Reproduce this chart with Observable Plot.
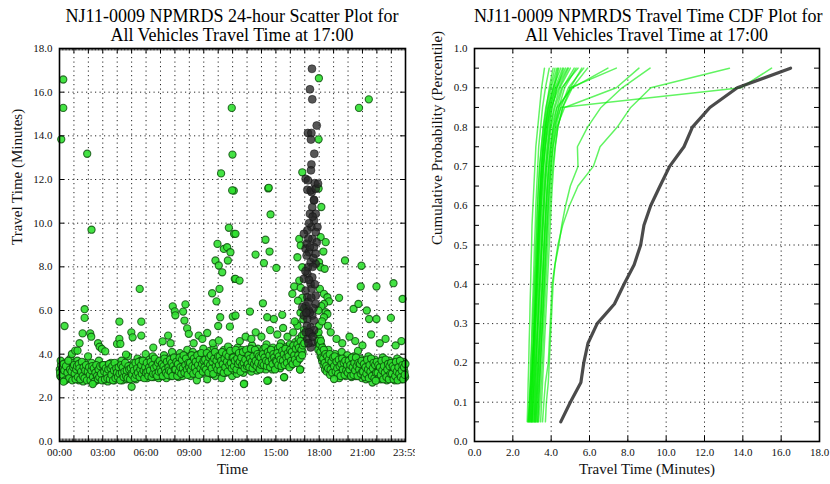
<!DOCTYPE html>
<html><head><meta charset="utf-8">
<script src="https://cdn.jsdelivr.net/npm/d3@7"></script>
<script src="https://cdn.jsdelivr.net/npm/@observablehq/plot@0.6"></script>
<style>
body{margin:0;background:#fff;}
#wrap{display:flex;width:830px;height:484px;background:#fff;}
.panel{width:415px;height:484px;}
.title{height:46px;box-sizing:border-box;padding-top:7px;font-family:"Liberation Serif",serif;font-size:18px;line-height:19px;text-align:center;color:#000;white-space:nowrap;}
svg{display:block;}
</style></head><body>
<div id="wrap">
<div class="panel" id="left"><div class="title" style="padding-left:59px;padding-right:10px">NJ11-0009 NPMRDS 24-hour Scatter Plot for<br>All Vehicles Travel Time at 17:00</div></div>
<div class="panel" id="right"><div class="title" style="padding-left:59px;padding-right:11px">NJ11-0009 NPMRDS Travel Time CDF Plot for<br>All Vehicles Travel Time at 17:00</div></div>
</div>
<script>
// ---------- Scatter data: [hour of day, travel time (min)] ----------
const greenBand = [
[0.02,3.3],[0.05,3.0],[0.1,3.5],[0.14,3.2],[0.2,2.9],[0.25,3.4],[0.3,3.1],[0.36,3.6],[0.42,3.2],[0.48,2.85],[0.52,3.3],[0.58,3.0],[0.63,3.5],[0.7,3.15],[0.76,3.8],[0.8,2.95],[0.86,3.35],[0.92,3.1],[0.97,3.6],
[1.03,3.2],[1.08,2.9],[1.13,3.4],[1.18,3.0],[1.24,3.7],[1.3,3.25],[1.35,2.8],[1.41,3.1],[1.47,3.5],[1.52,3.0],[1.58,3.3],[1.64,2.75],[1.7,3.15],[1.75,3.6],[1.81,2.95],[1.87,3.3],[1.93,3.05],[1.98,3.9],
[2.02,3.1],[2.07,2.85],[2.12,3.35],[2.18,3.0],[2.23,3.6],[2.29,2.7],[2.35,3.2],[2.4,2.95],[2.46,3.45],[2.52,3.1],[2.57,2.8],[2.62,3.3],[2.68,3.0],[2.73,3.7],[2.79,3.2],[2.85,2.9],[2.9,3.4],[2.96,3.05],
[3.02,3.25],[3.07,2.8],[3.12,3.05],[3.18,3.5],[3.24,2.95],[3.29,3.2],[3.35,2.75],[3.4,3.4],[3.46,3.0],[3.51,3.15],[3.57,3.6],[3.63,2.9],[3.68,3.3],[3.74,3.05],[3.8,2.8],[3.85,3.45],[3.9,3.1],[3.96,2.95],
[4.02,3.2],[4.08,3.55],[4.13,2.9],[4.19,3.3],[4.24,3.05],[4.3,3.7],[4.36,2.8],[4.41,3.25],[4.47,3.0],[4.52,3.45],[4.58,3.1],[4.64,2.85],[4.69,3.35],[4.75,3.9],[4.8,3.05],[4.86,3.2],[4.92,2.95],[4.97,3.5],
[5.02,3.3],[5.07,2.9],[5.13,3.6],[5.18,3.1],[5.24,3.4],[5.3,2.85],[5.35,3.25],[5.41,3.8],[5.46,3.0],[5.52,3.45],[5.58,3.15],[5.63,3.7],[5.69,2.95],[5.74,3.35],[5.8,3.05],[5.86,3.55],[5.91,3.2],[5.97,4.0],
[6.02,3.3],[6.08,2.9],[6.13,3.5],[6.19,3.15],[6.24,3.75],[6.3,3.0],[6.35,3.4],[6.41,3.2],[6.47,3.9],[6.52,2.95],[6.58,3.55],[6.63,3.25],[6.69,3.05],[6.75,3.65],[6.8,3.35],[6.86,2.9],[6.91,3.45],[6.97,3.15],
[7.02,3.4],[7.08,3.0],[7.13,3.7],[7.19,3.25],[7.24,3.95],[7.3,3.1],[7.35,3.5],[7.41,2.9],[7.47,3.35],[7.52,3.8],[7.58,3.15],[7.63,3.55],[7.69,3.0],[7.75,3.45],[7.8,4.1],[7.86,3.3],[7.91,3.6],[7.97,3.05],
[8.02,3.5],[8.08,3.1],[8.13,3.8],[8.19,3.3],[8.24,2.95],[8.3,3.6],[8.35,4.05],[8.41,3.2],[8.47,3.45],[8.52,3.0],[8.58,3.7],[8.63,3.35],[8.69,3.9],[8.75,3.15],[8.8,3.55],[8.86,4.2],[8.91,3.25],[8.97,3.65],
[9.02,3.4],[9.08,3.0],[9.13,3.75],[9.19,3.3],[9.24,4.1],[9.3,3.55],[9.35,3.15],[9.41,3.85],[9.47,3.45],[9.52,2.8],[9.58,3.65],[9.63,3.25],[9.69,4.0],[9.75,3.5],[9.8,3.1],[9.86,3.8],[9.91,3.35],[9.97,4.25],
[10.02,3.6],[10.08,3.2],[10.13,3.9],[10.19,3.45],[10.24,2.85],[10.3,3.75],[10.35,3.3],[10.41,4.15],[10.47,3.55],[10.52,3.1],[10.58,3.85],[10.63,3.4],[10.69,4.3],[10.75,3.65],[10.8,3.0],[10.86,3.95],[10.91,3.5],[10.97,3.2],
[11.02,3.7],[11.08,3.3],[11.13,4.0],[11.19,3.5],[11.24,2.9],[11.3,3.85],[11.35,3.4],[11.41,4.2],[11.47,3.6],[11.52,3.15],[11.58,3.95],[11.63,3.45],[11.69,4.35],[11.75,3.75],[11.8,3.25],[11.86,4.05],[11.91,3.55],[11.97,3.0],
[12.02,3.65],[12.08,3.25],[12.13,4.1],[12.19,3.5],[12.24,3.85],[12.3,3.1],[12.35,4.3],[12.41,3.6],[12.47,3.35],[12.52,3.95],[12.58,3.45],[12.63,4.2],[12.69,3.7],[12.75,3.15],[12.8,2.65],[12.86,3.9],[12.91,3.5],[12.97,4.0],
[13.02,3.75],[13.08,3.3],[13.13,4.15],[13.19,3.6],[13.24,3.95],[13.3,3.2],[13.35,4.4],[13.41,3.7],[13.47,3.45],[13.52,4.05],[13.58,3.55],[13.63,3.85],[13.69,3.25],[13.75,4.25],[13.8,3.65],[13.86,3.4],[13.91,4.0],[13.97,3.75],
[14.02,3.8],[14.08,3.35],[14.13,4.2],[14.19,3.65],[14.24,4.0],[14.3,3.3],[14.35,4.45],[14.41,3.75],[14.47,2.8],[14.52,3.5],[14.58,4.1],[14.63,3.6],[14.69,3.9],[14.75,3.3],[14.8,4.3],[14.86,3.7],[14.91,3.45],[14.97,4.05],
[15.02,3.85],[15.08,3.4],[15.13,4.25],[15.19,3.7],[15.24,4.05],[15.3,3.35],[15.35,4.5],[15.41,3.8],[15.47,3.55],[15.52,4.15],[15.58,2.95],[15.63,3.95],[15.69,3.5],[15.75,4.35],[15.8,3.75],[15.86,4.1],[15.91,3.6],[15.97,4.45],
[16.02,3.9],[16.08,3.5],[16.13,4.3],[16.19,3.75],[16.24,4.1],[16.3,3.6],[16.35,4.55],[16.41,3.85],[16.47,4.2],[16.52,3.7],[16.58,4.7],[16.63,4.0],[16.69,3.3],[16.74,4.4],[16.8,4.85],[16.85,4.1],[16.9,4.6],[16.95,5.1],
[17.88,4.9],[17.92,4.5],[17.96,5.0],[17.98,4.3],
[18.02,4.2],[18.06,4.7],[18.1,3.9],[18.15,4.4],[18.2,3.7],[18.25,4.1],[18.3,3.5],[18.35,3.9],[18.4,3.3],[18.46,3.75],[18.52,3.2],[18.58,3.6],[18.64,4.2],[18.7,3.4],[18.76,3.05],[18.82,3.8],[18.88,3.5],[18.94,3.25],
[19.0,3.7],[19.06,3.3],[19.11,4.0],[19.17,3.5],[19.22,3.1],[19.28,3.85],[19.33,3.4],[19.39,2.9],[19.45,3.65],[19.5,3.25],[19.56,4.1],[19.62,3.55],[19.67,3.15],[19.73,3.8],[19.78,3.35],[19.84,3.0],[19.9,3.6],[19.95,3.95],
[20.02,3.45],[20.08,3.1],[20.13,3.75],[20.19,3.3],[20.24,2.95],[20.3,3.6],[20.35,3.2],[20.41,3.9],[20.47,3.4],[20.52,3.0],[20.58,3.7],[20.63,3.25],[20.69,4.15],[20.75,3.5],[20.8,3.05],[20.86,3.8],[20.91,3.35],[20.97,2.9],
[21.02,3.4],[21.08,3.05],[21.13,3.7],[21.19,3.25],[21.24,2.85],[21.3,3.55],[21.35,3.15],[21.41,3.9],[21.47,3.35],[21.52,2.95],[21.58,3.6],[21.63,3.2],[21.69,2.7],[21.75,3.45],[21.8,3.1],[21.86,3.75],[21.91,3.3],[21.97,3.0],
[22.02,3.35],[22.08,3.0],[22.13,3.65],[22.19,3.2],[22.24,2.85],[22.3,3.5],[22.35,3.1],[22.41,3.85],[22.47,3.3],[22.52,2.95],[22.58,3.55],[22.63,3.15],[22.69,2.8],[22.75,3.4],[22.8,3.05],[22.86,3.7],[22.91,3.25],[22.97,2.9],
[23.02,3.3],[23.08,2.95],[23.13,3.6],[23.19,3.15],[23.24,2.8],[23.3,3.45],[23.35,3.05],[23.41,3.8],[23.47,3.25],[23.52,2.9],[23.58,3.5],[23.63,3.1],[23.69,2.85],[23.75,3.4],[23.8,3.0],[23.86,3.65],[23.91,3.2],[23.96,2.95]
];
const greenBand2 = [
[0.04,3.15],[0.08,3.7],[0.12,2.95],[0.18,3.35],[0.23,3.05],[0.28,3.55],[0.33,3.25],[0.39,2.8],[0.45,3.45],[0.55,3.15],[0.61,3.7],[0.67,2.9],[0.73,3.3],[0.83,3.2],[0.89,2.8],[0.95,3.4],
[1.01,3.5],[1.05,3.1],[1.11,2.85],[1.16,3.3],[1.21,3.45],[1.27,2.95],[1.33,3.55],[1.38,3.35],[1.44,2.85],[1.5,3.2],[1.55,3.65],[1.61,3.0],[1.67,3.4],[1.73,2.9],[1.78,3.25],[1.84,3.5],[1.9,2.8],[1.96,3.2],
[2.05,3.4],[2.1,3.05],[2.15,2.8],[2.21,3.25],[2.27,3.45],[2.32,2.95],[2.38,3.35],[2.43,2.75],[2.49,3.15],[2.55,3.5],[2.6,3.0],[2.66,2.85],[2.71,3.3],[2.76,2.95],[2.82,3.45],[2.88,3.1],[2.93,2.8],[2.98,3.5],
[3.04,3.5],[3.1,3.2],[3.15,2.85],[3.21,3.35],[3.27,3.1],[3.32,2.9],[3.38,3.3],[3.43,3.55],[3.49,2.85],[3.54,3.35],[3.6,3.05],[3.66,3.45],[3.71,2.8],[3.77,3.25],[3.82,3.6],[3.88,2.9],[3.93,3.35],[3.98,3.15],
[4.05,2.95],[4.1,3.4],[4.16,3.1],[4.21,2.8],[4.27,3.5],[4.33,3.15],[4.38,3.4],[4.44,2.95],[4.5,3.2],[4.55,3.6],[4.61,3.0],[4.66,3.25],[4.72,2.9],[4.78,3.45],[4.83,3.3],[4.89,2.85],[4.94,3.35],[4.99,3.1],
[5.04,3.05],[5.1,3.45],[5.15,3.25],[5.21,2.9],[5.27,3.6],[5.32,3.05],[5.38,3.35],[5.44,3.15],[5.49,3.65],[5.55,2.95],[5.6,3.3],[5.66,3.5],[5.71,3.1],[5.77,3.7],[5.83,3.25],[5.88,2.9],[5.94,3.4],[5.99,3.15],
[6.05,3.6],[6.1,3.2],[6.16,3.0],[6.21,3.4],[6.27,3.25],[6.32,3.65],[6.38,2.95],[6.44,3.5],[6.49,3.1],[6.55,3.35],[6.6,3.8],[6.66,3.1],[6.72,3.45],[6.77,3.0],[6.83,3.6],[6.88,3.2],[6.94,3.7],[6.99,3.35],
[7.05,3.2],[7.1,3.55],[7.16,3.0],[7.21,3.45],[7.27,3.8],[7.32,3.3],[7.38,3.15],[7.44,3.65],[7.49,3.05],[7.55,3.4],[7.6,3.25],[7.66,3.75],[7.72,3.2],[7.77,3.6],[7.83,3.0],[7.88,3.45],[7.94,3.85],[7.99,3.3],
[8.05,3.3],[8.1,3.65],[8.16,3.0],[8.21,3.55],[8.27,3.2],[8.32,3.85],[8.38,3.4],[8.44,3.1],[8.49,3.75],[8.55,3.35],[8.6,3.95],[8.66,3.15],[8.72,3.5],[8.77,3.8],[8.83,3.3],[8.88,3.05],[8.94,3.6],[8.99,3.4],
[9.05,3.6],[9.1,3.25],[9.16,3.95],[9.21,3.45],[9.27,3.1],[9.32,3.8],[9.38,3.4],[9.44,3.65],[9.49,3.2],[9.55,3.95],[9.6,3.5],[9.66,3.05],[9.72,3.75],[9.77,3.35],[9.83,4.05],[9.88,3.55],[9.94,3.2],[9.99,3.7],
[10.05,3.4],[10.1,3.75],[10.16,3.3],[10.21,4.05],[10.27,3.6],[10.32,3.15],[10.38,3.85],[10.44,3.5],[10.49,3.95],[10.55,3.35],[10.6,3.65],[10.66,3.1],[10.72,3.8],[10.77,4.1],[10.83,3.45],[10.88,3.7],[10.94,3.3],[10.99,3.9],
[11.05,3.5],[11.1,3.9],[11.16,3.25],[11.21,3.7],[11.27,4.1],[11.32,3.55],[11.38,3.15],[11.44,3.8],[11.49,3.4],[11.55,4.0],[11.6,3.65],[11.66,3.2],[11.72,3.9],[11.77,3.5],[11.83,4.15],[11.88,3.6],[11.94,3.35],[11.99,3.85],
[12.05,3.85],[12.1,3.45],[12.16,3.7],[12.21,4.2],[12.27,3.3],[12.32,3.8],[12.38,3.55],[12.44,4.05],[12.49,3.65],[12.55,3.2],[12.6,3.85],[12.66,3.5],[12.72,4.1],[12.77,3.6],[12.83,3.35],[12.88,3.75],[12.94,4.2],[12.99,3.45],
[13.05,3.55],[13.1,3.95],[13.16,3.4],[13.21,3.8],[13.27,4.25],[13.32,3.65],[13.38,3.35],[13.44,3.9],[13.49,3.55],[13.55,4.2],[13.6,3.7],[13.66,3.45],[13.72,4.0],[13.77,3.6],[13.83,3.9],[13.88,3.3],[13.94,3.85],[13.99,3.5],
[14.05,3.6],[14.1,4.0],[14.16,3.5],[14.21,3.85],[14.27,4.3],[14.32,3.7],[14.38,3.45],[14.44,4.1],[14.49,3.65],[14.55,3.95],[14.6,3.4],[14.66,4.2],[14.72,3.75],[14.77,3.55],[14.83,4.0],[14.88,3.85],[14.94,3.3],[14.99,3.7],
[15.05,3.65],[15.1,4.05],[15.16,3.5],[15.21,3.9],[15.27,4.35],[15.32,3.75],[15.38,3.45],[15.44,4.15],[15.49,3.7],[15.55,4.0],[15.6,3.5],[15.66,4.25],[15.72,3.85],[15.77,3.6],[15.83,4.05],[15.88,3.9],[15.94,3.4],[15.99,4.2],
[16.05,3.7],[16.1,4.1],[16.16,3.55],[16.21,4.4],[16.27,3.95],[16.32,3.75],[16.38,4.25],[16.44,3.6],[16.49,4.45],[16.55,3.95],[16.6,4.3],[16.66,3.8],[16.71,4.6],[16.77,4.2],[16.82,3.95],[16.87,4.4],[16.92,4.9],[16.97,4.5],
[17.9,4.6],[17.94,4.2],
[18.04,4.45],[18.08,4.1],[18.12,4.6],[18.18,3.85],[18.22,4.3],[18.28,3.8],[18.32,4.2],[18.38,3.6],[18.43,4.0],[18.49,3.45],[18.55,3.9],[18.61,3.35],[18.67,3.75],[18.73,4.0],[18.79,3.3],[18.85,3.65],[18.91,3.15],[18.97,3.85],
[19.03,3.45],[19.08,3.9],[19.14,3.2],[19.2,3.65],[19.25,3.35],[19.31,3.1],[19.36,3.75],[19.42,3.45],[19.48,3.0],[19.53,3.55],[19.59,3.8],[19.64,3.3],[19.7,3.6],[19.76,3.05],[19.81,3.7],[19.87,3.25],[19.93,3.5],[19.98,3.15],
[20.05,3.7],[20.1,3.3],[20.16,3.5],[20.21,3.0],[20.27,3.85],[20.32,3.4],[20.38,3.05],[20.44,3.6],[20.49,3.25],[20.55,3.85],[20.6,3.45],[20.66,3.0],[20.72,3.6],[20.77,3.3],[20.83,3.55],[20.88,3.1],[20.94,3.7],[20.99,3.2],
[21.05,3.2],[21.1,3.55],[21.16,2.95],[21.21,3.4],[21.27,3.1],[21.32,3.75],[21.38,3.3],[21.44,2.9],[21.49,3.5],[21.55,3.2],[21.6,3.8],[21.66,3.0],[21.72,3.35],[21.77,3.6],[21.83,2.9],[21.88,3.5],[21.94,3.15],[21.99,3.65],
[22.05,3.15],[22.1,3.5],[22.16,2.9],[22.21,3.4],[22.27,3.05],[22.32,3.7],[22.38,3.25],[22.44,2.85],[22.49,3.45],[22.55,3.15],[22.6,3.75],[22.66,2.95],[22.72,3.3],[22.77,3.55],[22.83,2.85],[22.88,3.45],[22.94,3.1],[22.99,3.6],
[23.05,3.1],[23.1,3.45],[23.16,2.85],[23.21,3.35],[23.27,3.0],[23.32,3.65],[23.38,3.2],[23.44,2.8],[23.49,3.4],[23.55,3.1],[23.6,3.7],[23.66,2.95],[23.72,3.25],[23.77,3.5],[23.83,2.85],[23.88,3.4],[23.93,3.05],[23.98,3.55]
];
const greenMid = [
[0.35,5.29],[0.86,4.01],[1.09,4.16],[1.25,4.16],[1.39,4.5],[1.6,4.95],[1.74,6.06],[1.74,5.66],[2.13,4.95],[2.2,4.8],[2.67,4.5],[2.78,4.34],[2.94,4.24],[3.17,4.13],[3.99,4.47],[4.15,4.7],[4.22,4.47],[4.15,5.49],[4.61,3.98],[4.98,5.0],[5.07,4.77],[5.67,4.85],[5.67,5.49],[5.56,6.99],[7.15,4.59],[7.53,4.85],[7.85,6.19],[7.99,5.96],[8.03,5.78],[8.57,5.95],[8.66,5.54],[8.73,6.28],[8.85,5.18],[8.96,4.93],[9.65,4.85],[10.24,4.97],[10.58,6.79],[10.63,4.5],[10.88,6.42],[11.0,5.29],[11.04,4.62],[11.09,6.99],[11.14,5.69],[11.81,5.26],[12.01,5.72],[12.15,7.45],[12.2,7.45],[12.48,7.37],[12.2,5.77],[13.2,5.95],[14.1,6.33],[14.4,5.69],[14.86,5.61],[15.44,5.8],[19.38,6.58],[19.79,8.29],[20.38,6.07],[20.72,6.3],[20.88,7.1],[20.93,8.05],[21.3,6.0],[21.46,5.61],[21.97,7.1],[21.97,5.61],[22.97,5.66],[23.15,7.25],[23.78,6.53],
[12.5,4.6],[12.9,4.8],[13.3,4.7],[13.6,5.0],[14.0,4.8],[14.6,5.1],[15.1,4.9],[15.5,5.2],[15.8,4.8],[16.2,5.0],[16.45,5.4],[19.2,4.7],[19.6,4.5],[20.1,4.8],[20.5,4.6],[21.0,4.4],[21.6,4.9],[22.2,4.5],[22.6,4.7],[23.3,4.4],[23.7,4.6],[6.5,4.3],[7.7,4.5],[9.3,4.5],[9.9,4.7],
[5.0,2.51],[0.28,2.74],[2.3,2.63],[12.78,2.63],[15.56,2.94],[14.4,2.78],[16.67,3.29],[21.92,2.78],[19.03,2.86]
];
const greenHigh = [
[0.26,16.58],[0.26,15.28],[0.12,13.84],[1.92,13.18],[2.22,9.7],[11.94,15.28],[11.99,13.14],[11.2,12.28],[12.08,11.49],[11.97,11.5],[14.47,11.59],[14.5,11.62],[14.63,10.4],[16.83,12.33],[17.98,16.64],[17.96,13.84],[17.96,11.59],[20.76,15.28],[21.44,15.67],[11.74,9.79],[12.1,9.51],[10.95,9.05],[11.39,8.82],[11.62,8.9],[11.85,8.67],[11.67,8.29],[10.81,8.29],[11.04,8.06],[11.28,7.75],[18.15,10.74],[12.2,9.51],[14.28,9.24],[14.56,8.7],[13.59,8.56],[14.17,8.17],[15.03,7.95],
[16.62,9.28],[16.72,8.98],[16.49,8.44],[16.83,7.98],[16.62,7.37],[16.27,7.1],[16.72,7.04],[16.14,6.76],[16.83,6.58],[16.53,6.45],[18.1,9.36],[18.45,9.13],[18.29,8.7],[17.99,8.21],[18.1,7.98],[18.38,7.91],[18.05,6.99],[18.33,6.76],[18.57,6.61],[18.68,6.42],[18.33,6.3],[18.45,5.92],[18.57,5.84],[18.33,5.69],[17.99,5.31],[16.9,5.6],[16.7,5.9],[16.5,5.3],[16.3,5.5],[18.2,5.5],[18.6,5.3],[18.8,5.0],[18.15,6.2],[16.95,6.1],[17.95,6.0]
];
const blackPoints = [
[17.5,17.07],[17.36,16.13],[17.52,15.67],[17.83,14.47],[17.22,14.13],[17.46,14.13],[17.43,13.83],[17.66,13.18],[17.46,12.69],[17.43,12.42],[17.06,12.03],[17.69,11.83],[17.18,11.53],[17.48,11.42],[17.64,11.07],
[17.22,11.96],[17.41,11.5],[17.76,11.58],[17.92,11.81],[17.64,11.04],[17.52,10.73],[17.36,10.43],[17.76,10.43],[17.64,10.12],[17.46,9.82],[17.88,9.82],[17.18,9.67],[17.76,9.59],[16.94,9.51],[17.52,9.28],[17.13,9.06],[17.83,9.13],[17.06,8.83],[17.29,8.67],[17.13,8.52],[17.64,8.9],[17.41,8.21],[17.22,7.98],[17.76,8.14],[17.18,7.68],[16.94,7.45],[17.52,7.52],[17.41,7.22],[17.06,6.91],[17.18,6.61],[17.76,6.68],[17.06,6.22],[17.29,6.0],[16.94,5.77],[17.52,5.77],[17.18,5.61],[17.64,5.54],[17.41,5.23],[17.06,5.0],[17.41,4.93],[17.18,4.7],[17.52,4.54],[17.41,4.31],[17.76,6.3],[16.83,6.15],
[17.3,10.0],[17.55,10.3],[17.25,9.3],[17.35,8.9],[17.6,8.4],[17.3,7.4],[17.48,7.0],[17.25,6.4],[17.6,6.1],[17.35,5.9],[17.15,5.3],[17.65,5.1],[17.3,5.0],[17.55,4.8],[17.25,4.5],[17.1,5.9],[17.45,6.6],[17.7,7.2],[17.05,7.8],[17.55,8.0],[17.75,8.6]
];

// ---------- Scatter axes ----------
const timeTickHours = [0, 3, 6, 9, 12, 15, 18, 21, 23.9833];
const timeTickLabels = ["00:00","03:00","06:00","09:00","12:00","15:00","18:00","21:00","23:59"];
const travelTicks = [0, 2, 4, 6, 8, 10, 12, 14, 16, 18];

// ---------- CDF data ----------
const probs = [0.05,0.10,0.15,0.20,0.25,0.30,0.35,0.40,0.45,0.50,0.55,0.60,0.65,0.70,0.75,0.80,0.85,0.90,0.95];
const cdfBlack = [4.5,5.0,5.55,5.7,5.92,6.4,7.3,7.8,8.33,8.67,8.84,9.19,9.68,10.18,10.93,11.37,12.28,13.71,16.49];
const cdfGreen = [
[2.75,2.78,2.8,2.83,2.85,2.88,2.9,2.93,2.95,2.98,3.0,3.05,3.1,3.15,3.2,3.3,3.4,3.5,3.65],
[2.8,2.85,2.9,2.93,2.97,3.0,3.03,3.07,3.1,3.13,3.17,3.2,3.25,3.3,3.35,3.45,3.55,3.7,3.9],
[2.85,2.9,2.95,3.0,3.05,3.08,3.12,3.15,3.2,3.23,3.27,3.3,3.35,3.4,3.5,3.6,3.75,3.9,4.1],
[2.9,2.95,3.0,3.04,3.08,3.12,3.16,3.2,3.24,3.28,3.32,3.37,3.42,3.48,3.55,3.65,3.8,4.0,4.3],
[2.95,3.0,3.05,3.1,3.13,3.17,3.2,3.25,3.28,3.32,3.36,3.4,3.46,3.52,3.6,3.7,3.85,4.1,4.5],
[3.0,3.05,3.1,3.13,3.17,3.2,3.24,3.28,3.32,3.36,3.4,3.45,3.5,3.57,3.65,3.75,3.95,4.2,4.6],
[2.8,2.88,2.95,3.02,3.08,3.13,3.18,3.22,3.27,3.3,3.35,3.4,3.45,3.5,3.6,3.72,3.9,4.15,4.4],
[3.05,3.1,3.15,3.2,3.23,3.27,3.3,3.34,3.38,3.42,3.46,3.5,3.56,3.62,3.7,3.8,3.95,4.25,4.75],
[3.1,3.15,3.2,3.25,3.28,3.32,3.36,3.4,3.44,3.48,3.52,3.57,3.62,3.7,3.78,3.9,4.05,4.3,4.85],
[3.15,3.2,3.25,3.3,3.35,3.38,3.42,3.46,3.5,3.54,3.58,3.63,3.68,3.75,3.85,3.95,4.15,4.45,5.0],
[3.2,3.26,3.32,3.37,3.42,3.46,3.5,3.54,3.58,3.62,3.67,3.72,3.78,3.85,3.95,4.1,4.3,4.6,5.2],
[2.9,2.95,3.0,3.05,3.1,3.15,3.2,3.25,3.3,3.35,3.4,3.45,3.5,3.58,3.68,3.8,4.0,4.4,4.9],
[3.0,3.04,3.08,3.12,3.16,3.2,3.25,3.3,3.34,3.38,3.43,3.48,3.54,3.6,3.7,3.85,4.05,4.3,4.65],
[3.25,3.3,3.36,3.42,3.47,3.52,3.56,3.6,3.65,3.7,3.75,3.8,3.87,3.95,4.05,4.2,4.4,4.7,5.3],
[3.3,3.35,3.4,3.45,3.5,3.55,3.6,3.65,3.7,3.75,3.8,3.85,3.92,4.0,4.1,4.25,4.5,4.9,5.7],
[3.35,3.42,3.48,3.53,3.58,3.62,3.67,3.72,3.77,3.82,3.87,3.93,4.0,4.08,4.2,4.35,4.6,5.1,5.9],
[2.95,2.98,3.02,3.05,3.09,3.13,3.17,3.21,3.25,3.29,3.33,3.38,3.43,3.5,3.58,3.68,3.85,4.1,4.35],
[3.1,3.14,3.18,3.22,3.27,3.31,3.35,3.4,3.45,3.5,3.55,3.6,3.66,3.73,3.82,3.95,4.2,4.55,5.4],
[3.45,3.5,3.55,3.6,3.65,3.7,3.75,3.8,3.85,3.9,3.95,4.0,4.06,4.13,4.22,4.35,4.6,5.0,5.6],
[2.85,2.88,2.92,2.96,3.0,3.04,3.08,3.12,3.16,3.2,3.24,3.28,3.33,3.4,3.48,3.58,3.72,3.95,4.2],
[3.2,3.25,3.3,3.35,3.4,3.45,3.5,3.55,3.6,3.65,3.7,3.75,3.82,3.9,4.0,4.15,4.5,13.9,15.5],
[3.3,3.35,3.4,3.45,3.5,3.55,3.6,3.65,3.7,3.75,3.8,3.86,3.92,4.0,4.1,4.3,4.7,7.4,8.58],
[3.55,3.62,3.7,3.85,3.9,3.95,4.0,4.05,4.2,4.4,4.55,4.75,5.0,5.4,5.37,5.9,6.6,7.7,9.16],
[3.7,3.75,3.85,3.9,3.95,4.0,4.05,4.1,4.2,4.35,4.6,4.95,5.4,6.2,6.55,7.45,8.15,9.2,13.3],
[3.0,3.06,3.12,3.18,3.24,3.3,3.35,3.4,3.46,3.52,3.58,3.64,3.7,3.78,3.88,4.0,4.3,5.1,6.96],
[3.15,3.2,3.26,3.32,3.37,3.43,3.48,3.53,3.58,3.63,3.68,3.74,3.8,3.88,3.98,4.1,4.4,5.0,7.4]
];
const cdfXTicks = [0, 2, 4, 6, 8, 10, 12, 14, 16, 18];
const cdfYTicks = [0, 0.1, 0.2, 0.3, 0.4, 0.5, 0.6, 0.7, 0.8, 0.9, 1.0];
const cdfYMinor = [0.05, 0.15, 0.25, 0.35, 0.45, 0.55, 0.65, 0.75, 0.85, 0.95];

// ---------- layout ----------
const W = 415, H = 438, MT = 2, MB = 43;
const FH = H - MT - MB;
const serif = "'Liberation Serif', 'Times New Roman', serif";
const gridStyle = {stroke: "#000", strokeOpacity: 0.85, strokeWidth: 1, strokeDasharray: "1.2,3.3"};
const tickStyle = {stroke: "#000", strokeWidth: 1};

// Left: scatter
{
  const ML = 59, MR = 10, FW = W - ML - MR;
  const minor = d3.range(0, 24, 0.1);
  const hours = d3.range(1, 24);
  const pt = d => d[0], pv = d => d[1];
  const svg = Plot.plot({
    width: W, height: H, marginLeft: ML, marginRight: MR, marginTop: MT, marginBottom: MB,
    style: {fontFamily: serif, fontSize: "11px", color: "#111", background: "white", overflow: "visible"},
    x: {domain: [0, 23.9833]},
    y: {domain: [0, 18]},
    marks: [
      Plot.ruleX(hours, {x: d => d, ...gridStyle}),
      Plot.ruleY(travelTicks.slice(1, -1), {y: d => d, ...gridStyle}),
      Plot.dot(greenBand.concat(greenBand2, greenMid, greenHigh), {x: pt, y: pv, r: 3.6, fill: "#30e030", fillOpacity: 0.9, stroke: "#0b4a0b", strokeOpacity: 0.8, strokeWidth: 1.1}),
      Plot.dot(blackPoints, {x: pt, y: pv, r: 4, fill: "#262626", fillOpacity: 0.78, stroke: "#111", strokeOpacity: 0.5, strokeWidth: 1}),
      Plot.tickX(minor, {x: d => d, insetTop: FH - 2.5, ...tickStyle, strokeWidth: 0.8}),
      Plot.tickX(minor, {x: d => d, insetBottom: FH - 2.5, ...tickStyle, strokeWidth: 0.8}),
      Plot.tickX(hours, {x: d => d, insetTop: FH - 5, ...tickStyle}),
      Plot.tickX(hours, {x: d => d, insetBottom: FH - 5, ...tickStyle}),
      Plot.tickY(travelTicks, {y: d => d, insetRight: FW - 5, ...tickStyle}),
      Plot.tickY(travelTicks, {y: d => d, insetLeft: FW - 5, ...tickStyle}),
      Plot.axisX({ticks: timeTickHours, tickFormat: (d, i) => timeTickLabels[i], tickSize: 0, tickPadding: 7, label: null}),
      Plot.axisY({ticks: travelTicks, tickFormat: d => d.toFixed(1), tickSize: 0, tickPadding: 7, label: null}),
      Plot.frame({stroke: "#000", strokeWidth: 1.6}),
      Plot.text(["Time"], {frameAnchor: "bottom", dy: 32, fontSize: 15, fill: "#111"}),
      Plot.text(["Travel Time (Minutes)"], {frameAnchor: "left", dx: -42, rotate: -90, fontSize: 15, fill: "#111"})
    ]
  });
  document.getElementById("left").appendChild(svg);
}

// Right: CDF
{
  const ML = 59, MR = 11, FW = W - ML - MR;
  const greenRows = cdfGreen.flatMap((vals, k) => vals.map((v, i) => ({id: k, x: v, p: probs[i]})));
  const blackRows = cdfBlack.map((v, i) => ({x: v, p: probs[i]}));
  const yAll = cdfYTicks.concat(cdfYMinor);
  const svg = Plot.plot({
    width: W, height: H, marginLeft: ML, marginRight: MR, marginTop: MT, marginBottom: MB,
    style: {fontFamily: serif, fontSize: "11px", color: "#111", background: "white", overflow: "visible"},
    x: {domain: [0, 18]},
    y: {domain: [0, 1]},
    marks: [
      Plot.ruleX(cdfXTicks.slice(1, -1), {x: d => d, ...gridStyle}),
      Plot.ruleY(cdfYTicks.slice(1, -1), {y: d => d, ...gridStyle}),
      Plot.line(greenRows, {x: "x", y: "p", z: "id", stroke: "#00ee00", strokeOpacity: 0.62, strokeWidth: 1.5}),
      Plot.line(blackRows, {x: "x", y: "p", stroke: "#2b2b2b", strokeOpacity: 0.85, strokeWidth: 3.2}),
      Plot.tickX(cdfXTicks, {x: d => d, insetTop: FH - 5, ...tickStyle}),
      Plot.tickX(cdfXTicks, {x: d => d, insetBottom: FH - 5, ...tickStyle}),
      Plot.tickY(yAll, {y: d => d, insetRight: FW - 5, ...tickStyle}),
      Plot.tickY(yAll, {y: d => d, insetLeft: FW - 5, ...tickStyle}),
      Plot.axisX({ticks: cdfXTicks, tickFormat: d => d.toFixed(1), tickSize: 0, tickPadding: 7, label: null}),
      Plot.axisY({ticks: cdfYTicks, tickFormat: d => d.toFixed(1), tickSize: 0, tickPadding: 7, label: null}),
      Plot.frame({stroke: "#000", strokeWidth: 1.6}),
      Plot.text(["Travel Time (Minutes)"], {frameAnchor: "bottom", dy: 32, fontSize: 15, fill: "#111"}),
      Plot.text(["Cumulative Probability (Percentile)"], {frameAnchor: "left", dx: -37, rotate: -90, fontSize: 15, fill: "#111"})
    ]
  });
  document.getElementById("right").appendChild(svg);
}
</script>
</body></html>
